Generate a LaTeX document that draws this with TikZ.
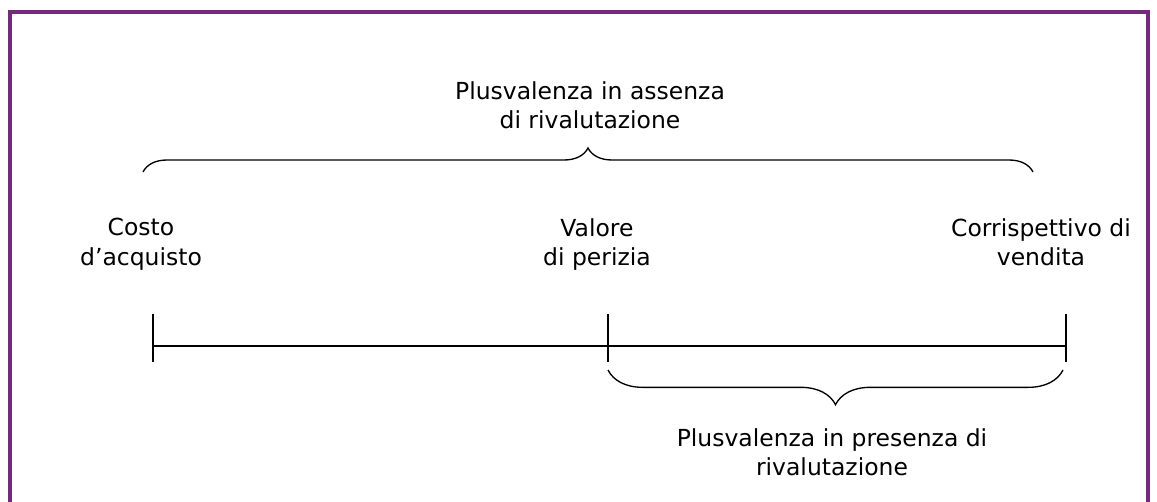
\documentclass[tikz,border=0pt]{standalone}
\usepackage{fontspec}
\setmainfont{DejaVu Sans}
\usetikzlibrary{decorations.pathreplacing}
\definecolor{framepurple}{RGB}{117,41,124}

\begin{document}
\begin{tikzpicture}[x=0.75pt,y=-0.75pt,
		lbl/.style={align=center,anchor=north,inner sep=0pt,font=\fontsize{17.6}{22}\selectfont},
		axis/.style={line width=1.1pt},
		curly/.style={line width=1pt,decorate,decoration={brace,amplitude=#1}},
		frame/.style={draw=framepurple,line width=2.3pt}]
			\useasboundingbox (0,0) rectangle (1157,502);
			\draw[frame] (10,502) -- (10,12) -- (1148,12) -- (1148,502);
			\coordinate (t_0) at (153,346);
			\coordinate (t_1) at (608,346);
			\coordinate (t_2) at (1066,346);
			\coordinate (b_0) at (143,172);
			\coordinate (b_1) at (1033,172);
			\coordinate (c_0) at (608,370);
			\coordinate (c_1) at (1063,370);
			\node[lbl] (assenza) at (590,81) {Plusvalenza in assenza\\di rivalutazione};
			\node[lbl] (acquisto) at (141,218) {Costo\\d’acquisto};
			\node[lbl] (perizia) at (597,218) {Valore\\di perizia};
			\node[lbl] (vendita) at (1041,218) {Corrispettivo di\\vendita};
			\node[lbl] (presenza) at (832,428) {Plusvalenza in presenza di\\rivalutazione};
			\draw[axis] (t_0) -- (t_2);
			\foreach \t in {t_0,t_1,t_2}
				\draw[axis] (\t) ++(0,-32) -- ++(0,48);
			\draw[curly=18pt] (b_0) -- (b_1);
			\draw[curly=26pt] (c_1) -- (c_0);
		\end{tikzpicture}
\end{document}
